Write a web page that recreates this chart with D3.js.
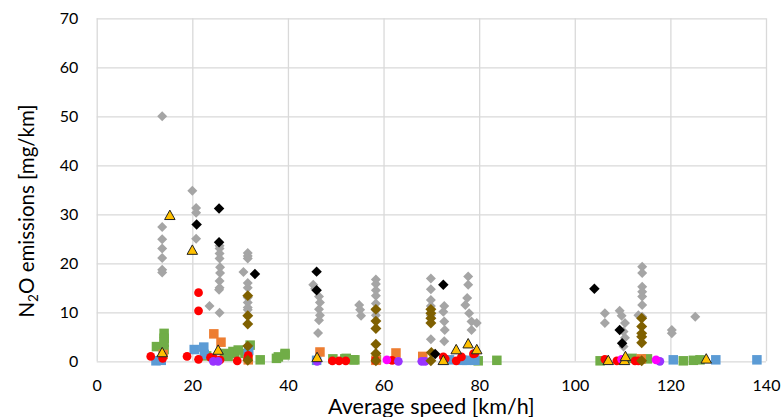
<!DOCTYPE html>
<html>
<head>
<meta charset="utf-8">
<script src="https://cdn.jsdelivr.net/npm/d3@7"></script>
<style>
  html, body { margin: 0; padding: 0; background: #fff; }
  svg { display: block; font-family: Lato, "Open Sans", sans-serif; }
</style>
</head>
<body>
<svg id="chart" width="781" height="417"></svg>
<script>
// Average speed [km/h] vs N2O emissions [mg/km], one array of [speed, n2o] per vehicle group
const grayDiamonds = [
  [13.7,50],[13.7,27.4],[13.7,24.9],[13.7,23],[13.7,21.1],[13.7,18.7],[13.7,18.1],
  [20.0,34.8],[20.8,31.3],[20.8,30.3],[20.8,25],[23.6,11.3],
  [25.7,23.6],[25.7,23],[25.7,22],[25.7,21],[25.8,19.2],[25.8,18],[25.7,16.4],[25.7,15],[25.6,14.6],[25.7,9.9],
  [31.6,22.1],[31.6,21.5],[31.6,21],[30.7,18.2],[31.6,16],[31.6,15],[31.6,13],[31.6,12],[31.6,11],[31.6,10.5],
  [45.3,15.6],[45.7,14.8],[46.5,13.2],[46.7,12],[46.5,10.6],[46.7,9.4],[46.5,8.4],[46.3,5.8],
  [54.9,11.5],[55.1,10.5],[55.3,9.3],
  [58.4,16.7],[58.4,15.8],[58.4,14.5],[58.4,13.4],[58.4,11.8],[58.4,10.4],[58.4,9.4],
  [69.9,16.9],[69.9,14.7],[69.9,12.5],[69.9,11.3],[69.9,9.4],[69.9,4.5],
  [72.7,11.3],[72.5,10.1],[72.7,8.1],[72.8,6.4],[72.7,4.1],
  [77.7,17.3],[77.7,15.6],[77.5,12.9],[77.1,11.5],[77.9,9.8],[78.4,8.1],[79.5,7.8],[78.4,6.4],
  [106.3,9.8],[106.3,7.8],
  [109.4,10.3],[109.8,9.3],[110.5,7.8],[110.2,6.1],[110.5,4.8],[110.2,3.0],
  [114.1,19.3],[114.1,18],[114.1,15.2],[114.1,14.2],[114.1,13.2],[114.1,11.5],[113.3,9.4],[114.1,9.1],
  [120.3,6.4],[120.3,5.7],[125.2,9.1]
];
const blackDiamonds = [
  [20.9,27.9],[25.6,31.2],[25.6,24.3],[33.1,17.8],[46.0,18.3],[46.0,14.5],
  [72.5,15.6],[70.8,1.5],[104.1,14.8],[109.4,6.4],[109.9,3.7]
];
const brownDiamonds = [
  [31.6,13.4],[31.6,9.3],[31.6,7.6],[31.6,3.1],[31.6,0.2],
  [58.4,10.6],[58.4,8.2],[58.4,6.7],[58.4,3.5],[58.4,1.6],[58.4,0.1],
  [69.9,10.6],[69.9,9.8],[69.9,8.8],[69.9,7.8],[70.0,1.8],[69.9,0.1],
  [114.0,8.8],[114.0,7.1],[114.0,5.7],[114.0,5.0],[114.0,3.8],[114.0,0.1]
];
const goldTriangles = [
  [15.3,29.7],[20.0,22.6],[13.7,1.7],[25.4,2.2],[46.1,0.7],
  [72.5,0.1],[75.2,2.3],[77.7,3.5],[79.5,2.3],
  [107.0,0.1],[110.4,0.1],[110.6,0.9],[127.5,0.4]
];
const redCircles = [
  [11.3,1.0],[13.8,0.6],[18.9,1.0],[21.3,14.0],[21.3,10.3],[21.3,0.4],[23.8,0.8],[24.5,0.6],[25.8,0.3],
  [29.4,0.1],[31.6,0.6],[31.7,1.2],[49.3,0.1],[50.7,0.1],[52.1,0.1],[58.3,0.2],[61.8,0.2],
  [72.9,0.5],[72.5,0.9],[75.2,0.1],[76.3,0.9],[78.8,1.5],[79.1,1.6],
  [106.3,0.4],[108.8,0.1],[112.6,0.1],[113.3,0.1]
];
const purpleCircles = [
  [24.4,0],[25.4,0],[46.1,0],[63.1,0],[68.0,0],[68.7,0],[117.8,0]
];
const magentaCircles = [
  [60.7,0.3],[109.8,0.4],[117.0,0.3]
];
const blueSquares = [
  [12.4,0.1],[13.5,0.2],[20.4,2.4],[22.4,2.9],[22.5,1.4],[31.8,2.2],[31.7,1.4],[46.0,0.2],
  [73.8,0.3],[76.5,0.2],[77.4,0.2],[79.1,0.2],[120.6,0.3],[129.5,0.3],[138.1,0.3]
];
const orangeSquares = [
  [13.9,1.4],[24.5,5.6],[26.0,3.9],[31.7,0.3],[46.7,1.9],[58.4,0.2],[62.6,1.7],[68.2,1.0],[113.9,0.5]
];
const greenSquares = [
  [12.5,3.0],[14.1,5.7],[14.1,4.7],[14.1,3.9],[14.1,2.4],[23.0,1.1],[26.8,1.6],[27.5,1.0],[28.5,2.0],
  [28.9,1.6],[29.6,2.3],[31.0,1.6],[32.1,3.3],[34.2,0.3],[37.6,0.6],[38.0,0.9],[39.4,1.3],[39.4,1.6],
  [49.4,0.5],[51.9,0.5],[52.2,0.6],[53.7,0.3],[54.0,0.3],[58.5,0.3],[79.8,0.1],[83.7,0.2],
  [105.3,0.1],[112.0,0.6],[115.2,0.5],[122.7,0.1],[124.8,0.2],[126.2,0.3]
];
const xTicks = [0, 20, 40, 60, 80, 100, 120, 140];
const yTicks = [0, 10, 20, 30, 40, 50, 60, 70];

const svg = d3.select("#chart");
const plotLeft = 96.7, plotRight = 766, plotTop = 18.3, plotBottom = 361.3;

const x = d3.scaleLinear().domain([0, 140]).range([plotLeft, plotRight]);
const y = d3.scaleLinear().domain([0, 70]).range([plotBottom, plotTop]);

const gridColor = "#d9d9d9";

// Gridlines and tick labels
const gx = svg.append("g")
  .attr("transform", `translate(0,${plotBottom})`)
  .call(d3.axisBottom(x).tickValues(xTicks).tickSize(-(plotBottom - plotTop)).tickPadding(18));
const gy = svg.append("g")
  .attr("transform", `translate(${plotLeft},0)`)
  .call(d3.axisLeft(y).tickValues(yTicks).tickSize(-(plotRight - plotLeft)).tickPadding(18.5));

[gx, gy].forEach(g => {
  g.select(".domain").remove();
  g.selectAll(".tick line").attr("stroke", gridColor).attr("stroke-width", 1.3);
  g.selectAll(".tick text")
    .attr("font-family", "Lato, sans-serif")
    .attr("font-size", 16)
    .attr("fill", "#000");
});

// Axis titles
svg.append("text")
  .attr("x", (plotLeft + plotRight) / 2).attr("y", 413.5)
  .attr("text-anchor", "middle")
  .attr("font-size", 21.5)
  .attr("fill", "#000")
  .text("Average speed [km/h]");

const yTitle = svg.append("text")
  .attr("transform", `translate(33.5,211) rotate(-90)`)
  .attr("text-anchor", "middle")
  .attr("font-size", 20.5)
  .attr("fill", "#000");
yTitle.append("tspan").text("N");
yTitle.append("tspan").attr("font-size", 13.5).attr("dy", 4).text("2");
yTitle.append("tspan").attr("dy", -4).text("O emissions [mg/km]");

const plot = svg.append("g");

function squares(data, color, size) {
  plot.append("g").selectAll("rect").data(data).join("rect")
    .attr("x", d => x(d[0]) - size / 2)
    .attr("y", d => y(d[1]) - size / 2)
    .attr("width", size).attr("height", size)
    .attr("fill", color);
}
function symbols(data, type, size, fill, stroke) {
  const gen = d3.symbol().type(type).size(size);
  plot.append("g").selectAll("path").data(data).join("path")
    .attr("transform", d => `translate(${x(d[0])},${y(d[1])})`)
    .attr("d", gen)
    .attr("fill", fill)
    .attr("stroke", stroke || "none")
    .attr("stroke-width", stroke ? 1 : 0);
}
const diamond = {
  draw(ctx, size) {
    const r = Math.sqrt(size / 2);
    ctx.moveTo(0, -r); ctx.lineTo(r, 0); ctx.lineTo(0, r); ctx.lineTo(-r, 0); ctx.closePath();
  }
};
const triangle = {
  draw(ctx, size) {
    const s = Math.sqrt(size);
    const h = s * 0.9;
    ctx.moveTo(0, -h * 0.6); ctx.lineTo(s / 2, h * 0.4); ctx.lineTo(-s / 2, h * 0.4); ctx.closePath();
  }
};

symbols(grayDiamonds, diamond, 50, "#a5a5a5");
squares(greenSquares, "#70ad47", 9.5);
squares(blueSquares, "#5b9bd5", 9.5);
squares(orangeSquares, "#ed7d31", 9.5);
symbols(redCircles, d3.symbolCircle, 60, "#ff0000");
symbols(purpleCircles, d3.symbolCircle, 60, "#9933ff");
symbols(magentaCircles, d3.symbolCircle, 60, "#ff00ff");
symbols(brownDiamonds, diamond, 60, "#7f6000");
symbols(blackDiamonds, diamond, 55, "#000000");
symbols(goldTriangles, triangle, 110, "#ffc000", "#222");
</script>
</body>
</html>
